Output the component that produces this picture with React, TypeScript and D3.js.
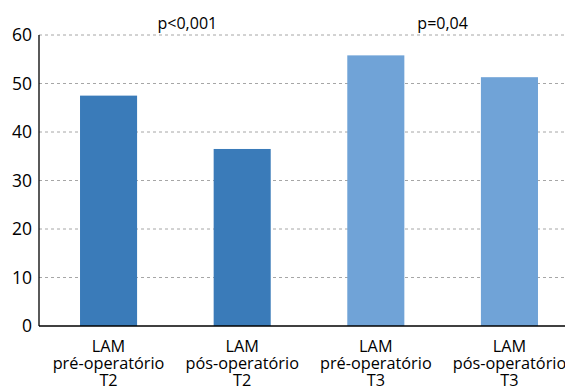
import React from "react";
import * as d3 from "d3";

const categories = [
  ["LAM", "pré-operatório", "T2"],
  ["LAM", "pós-operatório", "T2"],
  ["LAM", "pré-operatório", "T3"],
  ["LAM", "pós-operatório", "T3"],
];
const values = [47.5, 36.5, 55.8, 51.3];
const barColors = ["#3a7bb9", "#3a7bb9", "#70a3d7", "#70a3d7"];
const yTicks = [0, 10, 20, 30, 40, 50, 60];
const pLabels = [
  { text: "p<0,001", between: [0, 1], shift: 12 },
  { text: "p=0,04", between: [2, 3], shift: 0 },
];

const W = 565;
const H = 388;
const axisX = 39;
const y0 = 326;
const yTop = 35;
const font = "'Open Sans', sans-serif";

export default function App() {
  const x = d3
    .scaleBand<number>()
    .domain(categories.map((_, i) => i))
    .range([axisX, 579])
    .paddingInner(0.573)
    .paddingOuter(0.307);
  const y = d3.scaleLinear().domain([0, 60]).range([y0, yTop]);
  const bw = x.bandwidth();

  return (
    <svg width={W} height={H} style={{ position: "absolute", left: 0, top: 0 }}>
      <rect width={W} height={H} fill="#fff" />
      {yTicks
        .filter((t) => t > 0)
        .map((t) => (
          <line
            key={"g" + t}
            x1={axisX}
            x2={W}
            y1={y(t)}
            y2={y(t)}
            stroke="#a6a6a6"
            strokeWidth={1}
            strokeDasharray="3,3"
          />
        ))}
      {values.map((v, i) => (
        <rect
          key={"b" + i}
          x={x(i)}
          y={y(v)}
          width={bw}
          height={y0 - y(v)}
          fill={barColors[i]}
        />
      ))}
      <line x1={axisX} x2={axisX} y1={yTop} y2={y0} stroke="#000" strokeWidth={1.3} />
      <line x1={axisX} x2={W} y1={y0} y2={y0} stroke="#000" strokeWidth={1.3} />
      {yTicks.map((t) => (
        <text
          key={"t" + t}
          x={32}
          y={y(t)}
          dy="0.36em"
          textAnchor="end"
          fontFamily={font}
          fontSize={17.5}
          fill="#000"
        >
          {t}
        </text>
      ))}
      {categories.map((lines, i) =>
        lines.map((l, j) => (
          <text
            key={"c" + i + "-" + j}
            x={(x(i) as number) + bw / 2}
            y={352 + j * 17}
            textAnchor="middle"
            fontFamily={font}
            fontSize={16.3}
            fill="#000"
          >
            {l}
          </text>
        ))
      )}
      {pLabels.map((p, k) => {
        const cx =
          ((x(p.between[0]) as number) + (x(p.between[1]) as number) + bw) / 2 +
          p.shift;
        return (
          <text
            key={"p" + k}
            x={cx}
            y={29}
            textAnchor="middle"
            fontFamily={font}
            fontSize={16}
            fill="#000"
          >
            {p.text}
          </text>
        );
      })}
    </svg>
  );
}
